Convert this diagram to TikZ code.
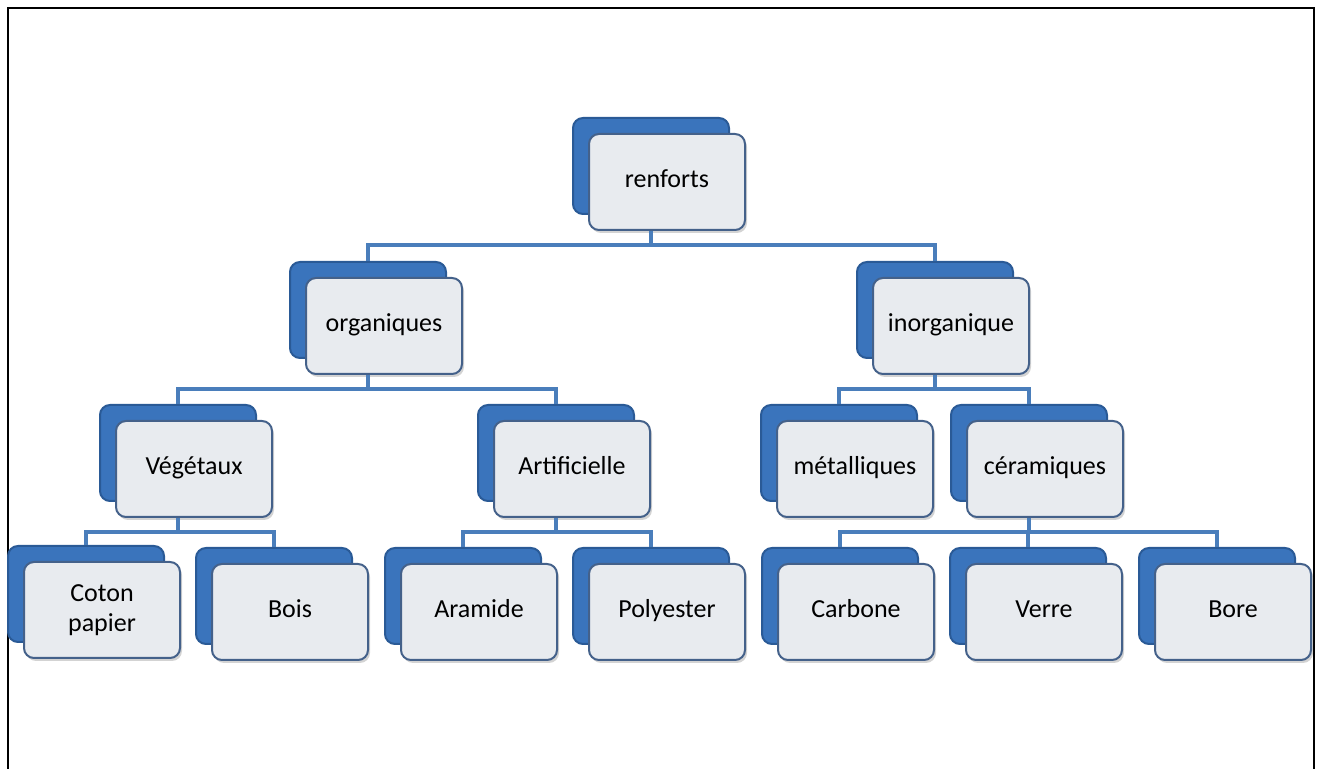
\documentclass[tikz,border=0pt]{standalone}
\usepackage{fontspec}
\setmainfont{Carlito}
\usetikzlibrary{shadows}

\definecolor{bleucarte}{HTML}{3A74BC}
\definecolor{bleubord}{HTML}{2A5A96}
\definecolor{grisfond}{HTML}{E8EBEF}
\definecolor{bordcarte}{HTML}{44618A}
\definecolor{bleulien}{HTML}{4A7EBB}

\tikzset{
  carte/.style={draw=bordcarte, line width=1pt, fill=grisfond,
    rounded corners=5pt, minimum width=78pt, minimum height=48pt,
    align=center, font=\fontsize{13}{15}\selectfont,
    text height=1.6ex, text depth=.45ex,
    copy shadow={shadow xshift=-8pt, shadow yshift=8pt,
      fill=bleucarte, draw=bleubord},
    drop shadow={shadow xshift=1pt, shadow yshift=-1.5pt, opacity=.35}},
  branche/.style={draw=bleulien, line width=2pt,
    to path={([xshift=-8pt]\tikztostart.south) -- ++(0,-7pt)
      -| ([xshift=-8pt,yshift=8pt]\tikztotarget.north)}}
}

\begin{document}
\begin{tikzpicture}[x=0.5pt, y=-0.5pt]
    \useasboundingbox (0,0) rectangle (1319,769);
    \draw[line width=1.4pt] (8,769) -- (8,8) -- (1314,8) -- (1314,769);

    \node[carte] at (667, 182) (renf) {renforts};
    \node[carte] at (384, 326) (org) {organiques};
    \node[carte] at (951, 326) (inorg) {inorganique};
    \node[carte] at (194, 469) (veg) {Végétaux};
    \node[carte] at (572, 469) (arti) {Artificielle};
    \node[carte] at (855, 469) (meta) {métalliques};
    \node[carte] at (1045, 469) (cera) {céramiques};
    \node[carte, text height=, text depth=] at (102, 610) (coton)
      {Coton\\papier};
    \node[carte] at (290, 612) (bois) {Bois};
    \node[carte] at (479, 612) (aram) {Aramide};
    \node[carte] at (667, 612) (poly) {Polyester};
    \node[carte] at (856, 612) (carb) {Carbone};
    \node[carte] at (1044, 612) (verre) {Verre};
    \node[carte] at (1233, 612) (bore) {Bore};

    \path
      (renf) edge[branche] (org)
      (renf) edge[branche] (inorg)
      (org) edge[branche] (veg)
      (org) edge[branche] (arti)
      (inorg) edge[branche] (meta)
      (inorg) edge[branche] (cera);
    \path
      (veg) edge[branche] (coton)
      (veg) edge[branche] (bois)
      (arti) edge[branche] (aram)
      (arti) edge[branche] (poly)
      (cera) edge[branche] (carb)
      (cera) edge[branche] (verre)
      (cera) edge[branche] (bore);
  \end{tikzpicture}
\end{document}
